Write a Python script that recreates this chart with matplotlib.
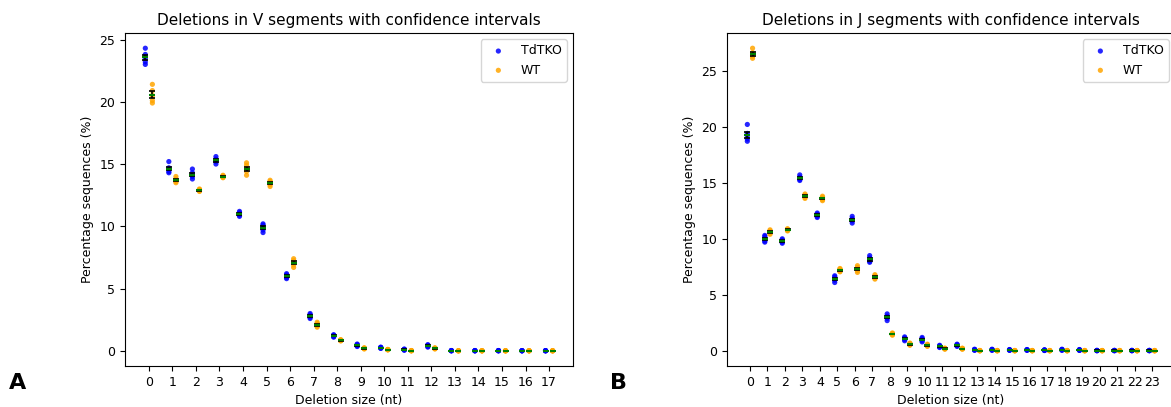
import numpy as np
import matplotlib
matplotlib.use("Agg")
import matplotlib.pyplot as plt

# ---------------- data ----------------
v_sizes = list(range(18))
v_tdtko = [
    [23.0, 23.2, 23.5, 23.8, 24.3],
    [14.3, 14.4, 14.6, 14.7, 15.2],
    [13.8, 14.0, 14.1, 14.3, 14.6],
    [15.0, 15.2, 15.3, 15.4, 15.6],
    [10.8, 10.9, 11.0, 11.1, 11.2],
    [9.5, 9.7, 9.9, 10.1, 10.2],
    [5.8, 5.9, 6.0, 6.1, 6.2],
    [2.6, 2.7, 2.8, 2.9, 3.0],
    [1.1, 1.15, 1.2, 1.25, 1.3],
    [0.35, 0.4, 0.45, 0.5, 0.55],
    [0.2, 0.22, 0.25, 0.28, 0.3],
    [0.05, 0.08, 0.1, 0.12, 0.15],
    [0.3, 0.35, 0.4, 0.45, 0.5],
    [0.0, 0.01, 0.02, 0.02, 0.03],
    [0.0, 0.01, 0.01, 0.02, 0.03],
    [0.0, 0.01, 0.02, 0.02, 0.03],
    [0.0, 0.01, 0.01, 0.02, 0.02],
    [0.0, 0.01, 0.01, 0.02, 0.02],
]
v_wt = [
    [19.9, 20.1, 20.5, 20.9, 21.4],
    [13.5, 13.6, 13.7, 13.8, 14.0],
    [12.8, 12.85, 12.9, 12.95, 13.0],
    [13.9, 13.95, 14.0, 14.05, 14.1],
    [14.1, 14.4, 14.6, 14.9, 15.1],
    [13.2, 13.35, 13.5, 13.6, 13.7],
    [6.7, 6.9, 7.1, 7.25, 7.4],
    [1.9, 2.0, 2.1, 2.2, 2.3],
    [0.8, 0.82, 0.85, 0.88, 0.9],
    [0.15, 0.18, 0.2, 0.22, 0.25],
    [0.08, 0.09, 0.1, 0.11, 0.12],
    [0.0, 0.01, 0.02, 0.02, 0.03],
    [0.15, 0.18, 0.2, 0.22, 0.25],
    [0.0, 0.0, 0.01, 0.01, 0.02],
    [0.0, 0.0, 0.01, 0.01, 0.02],
    [0.0, 0.0, 0.01, 0.01, 0.02],
    [0.0, 0.0, 0.01, 0.01, 0.02],
    [0.0, 0.0, 0.01, 0.01, 0.02],
]

j_sizes = list(range(24))
j_tdtko = [
    [18.7, 18.9, 19.2, 19.4, 20.2],
    [9.7, 9.8, 10.0, 10.2, 10.3],
    [9.6, 9.7, 9.8, 9.9, 10.0],
    [15.2, 15.3, 15.4, 15.5, 15.7],
    [11.9, 12.0, 12.1, 12.2, 12.3],
    [6.1, 6.3, 6.4, 6.6, 6.7],
    [11.4, 11.6, 11.7, 11.8, 12.0],
    [7.9, 8.0, 8.1, 8.3, 8.5],
    [2.7, 2.9, 3.0, 3.1, 3.3],
    [0.9, 1.0, 1.1, 1.15, 1.25],
    [0.8, 0.9, 1.0, 1.1, 1.2],
    [0.3, 0.35, 0.4, 0.45, 0.5],
    [0.4, 0.45, 0.5, 0.55, 0.6],
    [0.05, 0.08, 0.1, 0.12, 0.15],
    [0.05, 0.08, 0.1, 0.12, 0.15],
    [0.05, 0.07, 0.08, 0.1, 0.12],
    [0.05, 0.07, 0.08, 0.1, 0.12],
    [0.03, 0.05, 0.06, 0.08, 0.1],
    [0.05, 0.08, 0.1, 0.12, 0.15],
    [0.04, 0.06, 0.08, 0.1, 0.12],
    [0.01, 0.02, 0.03, 0.04, 0.05],
    [0.01, 0.02, 0.03, 0.04, 0.05],
    [0.01, 0.02, 0.03, 0.04, 0.05],
    [0.01, 0.02, 0.03, 0.04, 0.05],
]
j_wt = [
    [26.1, 26.3, 26.4, 26.6, 27.0],
    [10.4, 10.5, 10.6, 10.7, 10.8],
    [10.7, 10.75, 10.8, 10.85, 10.9],
    [13.6, 13.7, 13.8, 13.9, 14.0],
    [13.4, 13.5, 13.6, 13.7, 13.8],
    [7.05, 7.1, 7.2, 7.3, 7.35],
    [7.0, 7.15, 7.3, 7.45, 7.6],
    [6.4, 6.5, 6.6, 6.7, 6.8],
    [1.4, 1.45, 1.5, 1.55, 1.6],
    [0.5, 0.55, 0.6, 0.65, 0.7],
    [0.4, 0.45, 0.5, 0.55, 0.6],
    [0.15, 0.18, 0.2, 0.22, 0.25],
    [0.15, 0.17, 0.2, 0.22, 0.24],
    [0.0, 0.01, 0.02, 0.03, 0.04],
    [0.0, 0.01, 0.02, 0.03, 0.04],
    [0.0, 0.01, 0.02, 0.03, 0.04],
    [0.0, 0.01, 0.02, 0.03, 0.04],
    [0.0, 0.01, 0.02, 0.03, 0.04],
    [0.0, 0.01, 0.02, 0.03, 0.04],
    [0.0, 0.01, 0.02, 0.03, 0.04],
    [0.0, 0.01, 0.02, 0.03, 0.04],
    [0.0, 0.01, 0.02, 0.03, 0.04],
    [0.0, 0.01, 0.02, 0.03, 0.04],
    [0.0, 0.01, 0.02, 0.03, 0.04],
]

genotypes = ["TdTKO", "WT"]
colors = ["blue", "orange"]
offsets = [-0.15, 0.15]

plt.rcParams["font.size"] = 9

fig = plt.figure(figsize=(11.71, 4.07), dpi=100)
axA = fig.add_axes([0.1067, 0.1007, 0.3826, 0.818])
axB = fig.add_axes([0.6208, 0.1007, 0.3826, 0.818])


def draw(ax, sizes, series, title):
    for gi, (vals, col, off) in enumerate(zip(series, colors, offsets)):
        for k, (s, reps) in enumerate(zip(sizes, vals)):
            reps = np.asarray(reps)
            x = np.full(len(reps), s + off)
            ax.scatter(x, reps, s=14, color=col, alpha=0.85, edgecolors="none",
                       label=genotypes[gi] if k == 0 else None, zorder=2)
            m = reps.mean()
            sem = reps.std(ddof=1) / np.sqrt(len(reps))
            ax.errorbar(s + off, m, yerr=sem, fmt="none", ecolor="black",
                        elinewidth=1.2, capsize=2, capthick=1.2, zorder=3)
            ax.plot([s + off], [m], marker="_", color="green", markersize=5,
                    markeredgewidth=1.5, zorder=4)
    ax.set_xticks(sizes)
    ax.set_xticklabels([str(s) for s in sizes])
    ax.tick_params(labelsize=9)
    ax.set_title(title, fontsize=11)
    ax.set_xlabel("Deletion size (nt)", fontsize=9)
    ax.set_ylabel("Percentage sequences (%)", fontsize=9)
    ax.legend(loc="upper right", fontsize=9)


draw(axA, v_sizes, [v_tdtko, v_wt], "Deletions in V segments with confidence intervals")
draw(axB, j_sizes, [j_tdtko, j_wt], "Deletions in J segments with confidence intervals")

fig.text(0.008, 0.045, "A", fontsize=16, fontweight="bold")
fig.text(0.521, 0.045, "B", fontsize=16, fontweight="bold")

fig.savefig("out.png", dpi=100)
